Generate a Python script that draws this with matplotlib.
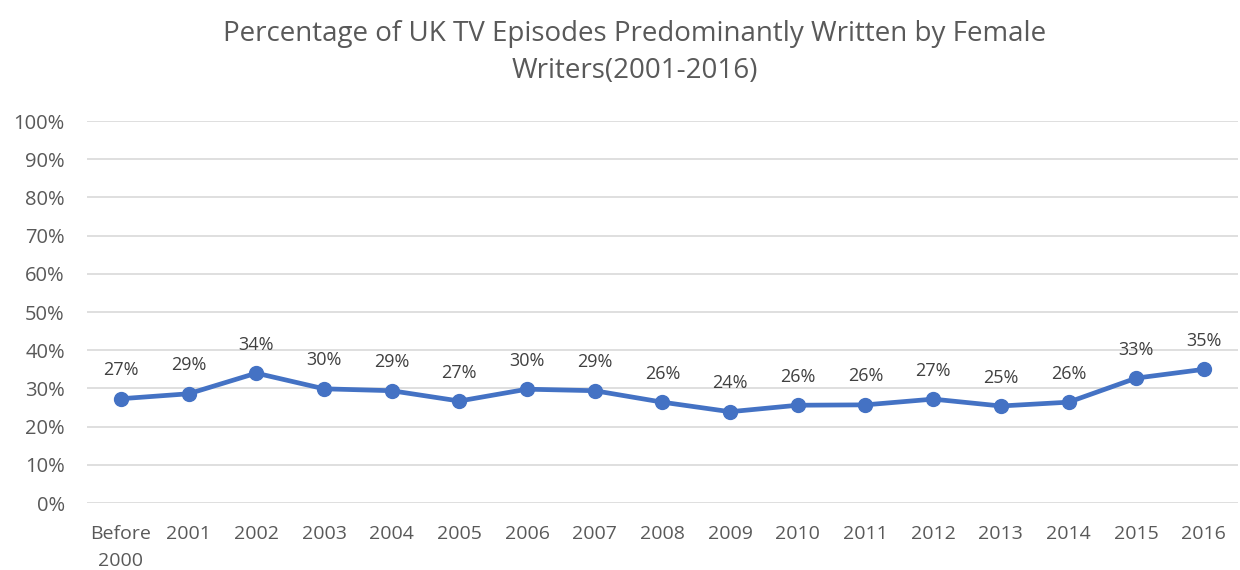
import matplotlib
matplotlib.use("Agg")
import matplotlib.pyplot as plt
from matplotlib.ticker import FuncFormatter, MultipleLocator

categories = ["Before\n2000", "2001", "2002", "2003", "2004", "2005", "2006", "2007",
              "2008", "2009", "2010", "2011", "2012", "2013", "2014", "2015", "2016"]
values = [27.3, 28.6, 34.0, 29.9, 29.4, 26.7, 29.8, 29.4, 26.4, 23.9, 25.6, 25.7,
          27.2, 25.4, 26.4, 32.7, 35.0]
title = "Percentage of UK TV Episodes Predominantly Written by Female\nWriters(2001-2016)"

plt.rcParams['font.family'] = ['Open Sans', 'DejaVu Sans']

fig = plt.figure(figsize=(12.4, 5.7), dpi=100)
ax = fig.add_axes([0.0702, 0.1175, 0.928, 0.6702])

x = list(range(len(categories)))
ax.plot(x, values, color="#4472C4", linewidth=3.4, marker="o", markersize=10,
        solid_capstyle="round", zorder=3)

for xi, v in zip(x, values):
    ax.annotate(f"{round(v):d}%", (xi, v), xytext=(0, 20.5), textcoords="offset points",
                ha="center", va="center", fontsize=13, color="#404040")

ax.set_xlim(-0.5, len(categories) - 0.5)
ax.set_ylim(0, 100)
ax.yaxis.set_major_locator(MultipleLocator(10))
ax.yaxis.set_major_formatter(FuncFormatter(lambda v, p: f"{int(round(v))}%"))
ax.set_xticks(x)
ax.set_xticklabels(categories, linespacing=1.65)
ax.grid(axis="y", color="#D9D9D9", linewidth=1.2)
ax.set_axisbelow(True)
for s in ax.spines.values():
    s.set_visible(False)
ax.tick_params(axis="both", length=0, labelcolor="#595959")
ax.tick_params(axis="x", pad=16, labelsize=14)
ax.tick_params(axis="y", pad=16, labelsize=14.5)

fig.text(0.512, 0.908, title, ha="center", va="center", fontsize=20,
         color="#595959", linespacing=1.4)

fig.savefig("out.png", dpi=100)
